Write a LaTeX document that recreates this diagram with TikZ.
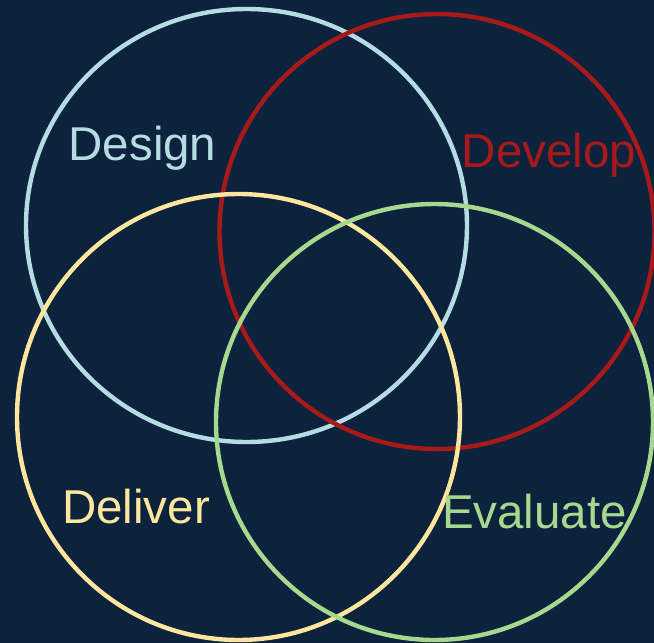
\documentclass[tikz,border=0pt]{standalone}
\usepackage{fontspec}
\setmainfont{Liberation Sans}
\definecolor{bgnavy}{HTML}{0C223D}
\definecolor{cdesign}{HTML}{B5DCE3}
\definecolor{cdevelop}{HTML}{A81A1A}
\definecolor{cdeliver}{HTML}{FFE69F}
\definecolor{cevaluate}{HTML}{A6D98E}
\tikzset{
  ring/.style={line width=4.4pt},
  lbl/.style={anchor=base, inner sep=0pt, font=\fontsize{47.5}{52}\selectfont},
}
\begin{document}
\begin{tikzpicture}[x=1pt,y=-1pt]
\fill[bgnavy] (0,0) rectangle (654,643);
\useasboundingbox (0,0) rectangle (654,643);
\draw[ring, cdesign] (246.5,225.5) ellipse [x radius=220.5, y radius=216.5];
\draw[ring, cdevelop] (437,231.5) ellipse [x radius=217.5, y radius=217.5];
\draw[ring, cdeliver] (238.5,417) ellipse [x radius=221.5, y radius=223];
\draw[ring, cevaluate] (434.5,422) ellipse [x radius=218.5, y radius=218];
\node[lbl, text=cdesign] (design) at (142.5,160) {Design};
\node[lbl, text=cdevelop] (develop) at (549,167) {Develop};
\node[lbl, text=cdeliver] (deliver) at (136,523) {Deliver};
\node[lbl, text=cevaluate] (evaluate) at (534.5,528) {Evaluate};
\end{tikzpicture}
\end{document}
